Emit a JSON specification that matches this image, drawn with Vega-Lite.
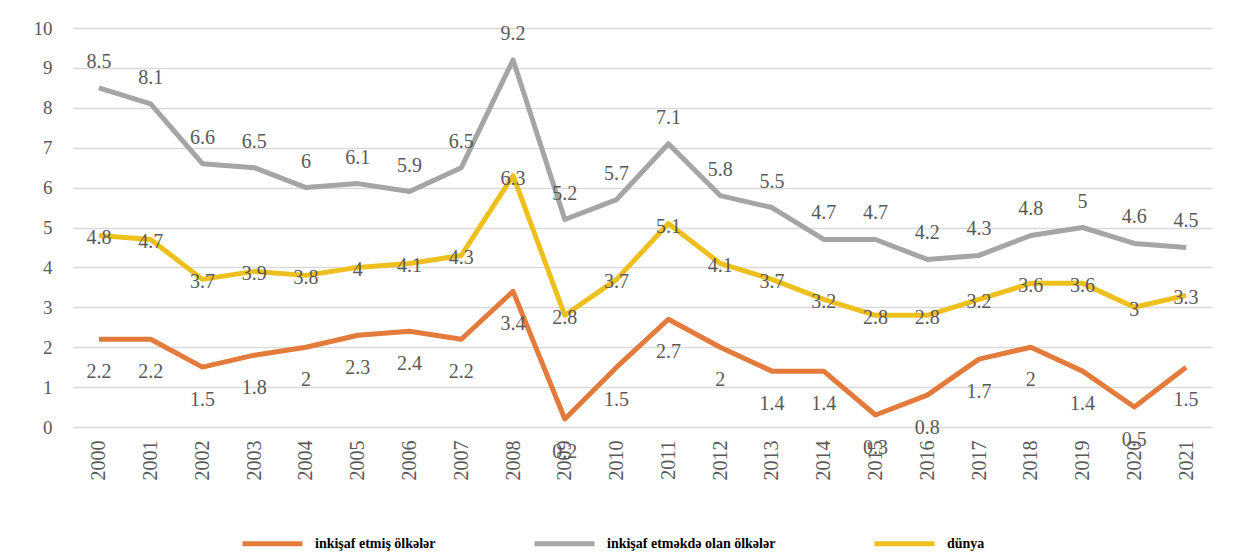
{
  "$schema": "https://vega.github.io/schema/vega-lite/v6.json",
  "autosize": "none",
  "width": 1139,
  "height": 399,
  "padding": {"left": 73, "top": 28, "right": 39, "bottom": 126},
  "background": "white",
  "config": {
    "view": {"stroke": null},
    "font": "Liberation Serif",
    "axis": {"labelFont": "Liberation Serif", "labelColor": "#595959", "labelFontSize": 19, "domain": false, "ticks": false, "title": null}
  },
  "datasets": {
    "d": [
      {"il": "2000", "seriya": "inkişaf etmiş ölkələr", "deger": 2.2},
      {"il": "2001", "seriya": "inkişaf etmiş ölkələr", "deger": 2.2},
      {"il": "2002", "seriya": "inkişaf etmiş ölkələr", "deger": 1.5},
      {"il": "2003", "seriya": "inkişaf etmiş ölkələr", "deger": 1.8},
      {"il": "2004", "seriya": "inkişaf etmiş ölkələr", "deger": 2},
      {"il": "2005", "seriya": "inkişaf etmiş ölkələr", "deger": 2.3},
      {"il": "2006", "seriya": "inkişaf etmiş ölkələr", "deger": 2.4},
      {"il": "2007", "seriya": "inkişaf etmiş ölkələr", "deger": 2.2},
      {"il": "2008", "seriya": "inkişaf etmiş ölkələr", "deger": 3.4},
      {"il": "2009", "seriya": "inkişaf etmiş ölkələr", "deger": 0.2},
      {"il": "2010", "seriya": "inkişaf etmiş ölkələr", "deger": 1.5},
      {"il": "2011", "seriya": "inkişaf etmiş ölkələr", "deger": 2.7},
      {"il": "2012", "seriya": "inkişaf etmiş ölkələr", "deger": 2},
      {"il": "2013", "seriya": "inkişaf etmiş ölkələr", "deger": 1.4},
      {"il": "2014", "seriya": "inkişaf etmiş ölkələr", "deger": 1.4},
      {"il": "2015", "seriya": "inkişaf etmiş ölkələr", "deger": 0.3},
      {"il": "2016", "seriya": "inkişaf etmiş ölkələr", "deger": 0.8},
      {"il": "2017", "seriya": "inkişaf etmiş ölkələr", "deger": 1.7},
      {"il": "2018", "seriya": "inkişaf etmiş ölkələr", "deger": 2},
      {"il": "2019", "seriya": "inkişaf etmiş ölkələr", "deger": 1.4},
      {"il": "2020", "seriya": "inkişaf etmiş ölkələr", "deger": 0.5},
      {"il": "2021", "seriya": "inkişaf etmiş ölkələr", "deger": 1.5},
      {"il": "2000", "seriya": "inkişaf etməkdə olan ölkələr", "deger": 8.5},
      {"il": "2001", "seriya": "inkişaf etməkdə olan ölkələr", "deger": 8.1},
      {"il": "2002", "seriya": "inkişaf etməkdə olan ölkələr", "deger": 6.6},
      {"il": "2003", "seriya": "inkişaf etməkdə olan ölkələr", "deger": 6.5},
      {"il": "2004", "seriya": "inkişaf etməkdə olan ölkələr", "deger": 6},
      {"il": "2005", "seriya": "inkişaf etməkdə olan ölkələr", "deger": 6.1},
      {"il": "2006", "seriya": "inkişaf etməkdə olan ölkələr", "deger": 5.9},
      {"il": "2007", "seriya": "inkişaf etməkdə olan ölkələr", "deger": 6.5},
      {"il": "2008", "seriya": "inkişaf etməkdə olan ölkələr", "deger": 9.2},
      {"il": "2009", "seriya": "inkişaf etməkdə olan ölkələr", "deger": 5.2},
      {"il": "2010", "seriya": "inkişaf etməkdə olan ölkələr", "deger": 5.7},
      {"il": "2011", "seriya": "inkişaf etməkdə olan ölkələr", "deger": 7.1},
      {"il": "2012", "seriya": "inkişaf etməkdə olan ölkələr", "deger": 5.8},
      {"il": "2013", "seriya": "inkişaf etməkdə olan ölkələr", "deger": 5.5},
      {"il": "2014", "seriya": "inkişaf etməkdə olan ölkələr", "deger": 4.7},
      {"il": "2015", "seriya": "inkişaf etməkdə olan ölkələr", "deger": 4.7},
      {"il": "2016", "seriya": "inkişaf etməkdə olan ölkələr", "deger": 4.2},
      {"il": "2017", "seriya": "inkişaf etməkdə olan ölkələr", "deger": 4.3},
      {"il": "2018", "seriya": "inkişaf etməkdə olan ölkələr", "deger": 4.8},
      {"il": "2019", "seriya": "inkişaf etməkdə olan ölkələr", "deger": 5},
      {"il": "2020", "seriya": "inkişaf etməkdə olan ölkələr", "deger": 4.6},
      {"il": "2021", "seriya": "inkişaf etməkdə olan ölkələr", "deger": 4.5},
      {"il": "2000", "seriya": "dünya", "deger": 4.8},
      {"il": "2001", "seriya": "dünya", "deger": 4.7},
      {"il": "2002", "seriya": "dünya", "deger": 3.7},
      {"il": "2003", "seriya": "dünya", "deger": 3.9},
      {"il": "2004", "seriya": "dünya", "deger": 3.8},
      {"il": "2005", "seriya": "dünya", "deger": 4},
      {"il": "2006", "seriya": "dünya", "deger": 4.1},
      {"il": "2007", "seriya": "dünya", "deger": 4.3},
      {"il": "2008", "seriya": "dünya", "deger": 6.3},
      {"il": "2009", "seriya": "dünya", "deger": 2.8},
      {"il": "2010", "seriya": "dünya", "deger": 3.7},
      {"il": "2011", "seriya": "dünya", "deger": 5.1},
      {"il": "2012", "seriya": "dünya", "deger": 4.1},
      {"il": "2013", "seriya": "dünya", "deger": 3.7},
      {"il": "2014", "seriya": "dünya", "deger": 3.2},
      {"il": "2015", "seriya": "dünya", "deger": 2.8},
      {"il": "2016", "seriya": "dünya", "deger": 2.8},
      {"il": "2017", "seriya": "dünya", "deger": 3.2},
      {"il": "2018", "seriya": "dünya", "deger": 3.6},
      {"il": "2019", "seriya": "dünya", "deger": 3.6},
      {"il": "2020", "seriya": "dünya", "deger": 3},
      {"il": "2021", "seriya": "dünya", "deger": 3.3}
    ]
  },
  "data": {"name": "d"},
  "encoding": {
    "x": {
      "field": "il", "type": "ordinal",
      "scale": {"type": "point", "padding": 0.5},
      "axis": {"labelAngle": -90, "labelPadding": 13, "labelFontSize": 20, "grid": false}
    },
    "y": {
      "field": "deger", "type": "quantitative",
      "scale": {"domain": [0, 10], "nice": false},
      "axis": {"values": [0,1,2,3,4,5,6,7,8,9,10], "labelPadding": 21, "grid": true, "gridColor": "#D9D9D9", "gridWidth": 1.5}
    }
  },
  "layer": [
    {
      "mark": {"type": "line", "strokeWidth": 5, "strokeJoin": "round"},
      "encoding": {
        "color": {
          "field": "seriya", "type": "nominal",
          "scale": {
            "domain": ["inkişaf etmiş ölkələr", "inkişaf etməkdə olan ölkələr", "dünya"],
            "range": ["#E27B3B", "#A5A5A5", "#EDC01E"]
          },
          "legend": {
            "title": null,
            "orient": "none",
            "legendX": 167,
            "legendY": 483,
            "direction": "horizontal",
            "symbolType": "stroke",
            "symbolSize": 3600,
            "symbolStrokeWidth": 5,
            "labelFont": "Liberation Serif",
            "labelFontWeight": "bold",
            "labelFontSize": 14,
            "labelColor": "#000000",
            "labelOffset": 10,
            "columnPadding": 88,
            "labelLimit": 400
          }
        }
      }
    },
    {
      "transform": [{"filter": "datum.seriya === 'inkişaf etmiş ölkələr'"}],
      "mark": {"type": "text", "dy": 33, "fontSize": 20, "font": "Liberation Serif", "color": "#595959"},
      "encoding": {"text": {"field": "deger", "type": "quantitative"}}
    },
    {
      "transform": [{"filter": "datum.seriya === 'inkişaf etməkdə olan ölkələr'"}],
      "mark": {"type": "text", "dy": -26, "fontSize": 20, "font": "Liberation Serif", "color": "#595959"},
      "encoding": {"text": {"field": "deger", "type": "quantitative"}}
    },
    {
      "transform": [{"filter": "datum.seriya === 'dünya'"}],
      "mark": {"type": "text", "dy": 3, "fontSize": 20, "font": "Liberation Serif", "color": "#595959"},
      "encoding": {"text": {"field": "deger", "type": "quantitative"}}
    }
  ]
}
